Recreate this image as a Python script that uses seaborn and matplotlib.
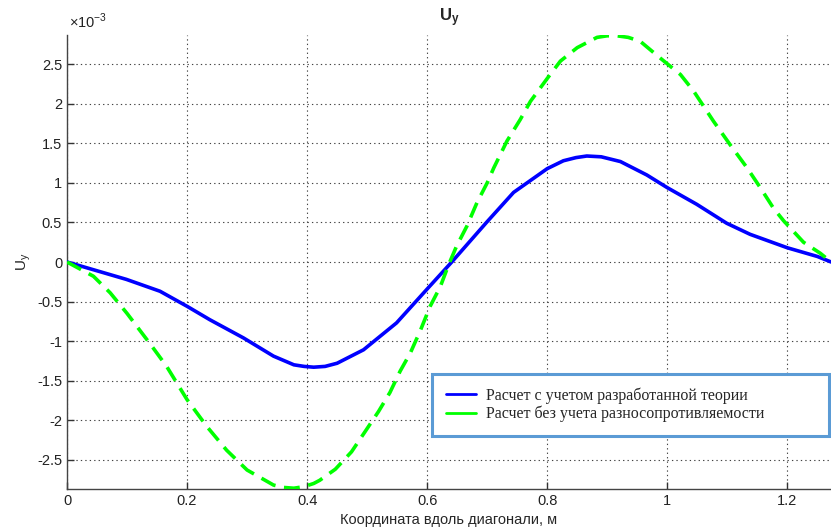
import numpy as np
import pandas as pd
import matplotlib
matplotlib.use("Agg")
import matplotlib.pyplot as plt
import seaborn as sns

## data (y in units of 1e-3) ##
blue_x = [0, 0.036, 0.072, 0.099, 0.155, 0.2, 0.238, 0.294, 0.344, 0.378, 0.395, 0.411,
          0.43, 0.45, 0.494, 0.549, 0.599, 0.641, 0.7, 0.744, 0.8, 0.827, 0.848, 0.866,
          0.89, 0.922, 0.966, 1.0, 1.049, 1.099, 1.138, 1.2, 1.25, 1.273]
blue_y = [0, -0.08, -0.16, -0.22, -0.37, -0.56, -0.73, -0.96, -1.19, -1.30, -1.32, -1.33,
          -1.32, -1.28, -1.11, -0.77, -0.35, 0.0, 0.51, 0.88, 1.18, 1.28, 1.32, 1.34,
          1.33, 1.27, 1.10, 0.94, 0.73, 0.49, 0.35, 0.18, 0.07, 0]

green_x = [0, 0.044, 0.072, 0.1, 0.138, 0.166, 0.2, 0.233, 0.266, 0.3, 0.344, 0.36, 0.378,
           0.395, 0.411, 0.421, 0.447, 0.474, 0.497, 0.519, 0.538, 0.555, 0.572, 0.589,
           0.605, 0.622, 0.636, 0.649, 0.666, 0.683, 0.7, 0.711, 0.733, 0.755, 0.772, 0.8,
           0.822, 0.85, 0.883, 0.9, 0.916, 0.935, 0.955, 0.988, 1.022, 1.044, 1.077, 1.105,
           1.133, 1.155, 1.177, 1.194, 1.227, 1.255, 1.273]
green_y = [0, -0.18, -0.39, -0.65, -1.03, -1.32, -1.74, -2.08, -2.38, -2.63, -2.82, -2.85,
           -2.86, -2.84, -2.80, -2.76, -2.62, -2.40, -2.14, -1.89, -1.65, -1.38, -1.15,
           -0.86, -0.56, -0.31, -0.03, 0.2, 0.45, 0.75, 1.0, 1.19, 1.53, 1.80, 2.03, 2.32,
           2.54, 2.71, 2.84, 2.86, 2.86, 2.84, 2.79, 2.58, 2.37, 2.16, 1.78, 1.48,
           1.19, 0.94, 0.68, 0.52, 0.25, 0.11, 0]

label_blue = "Расчет с учетом разработанной теории"
label_green = "Расчет без учета разносопротивляемости"
x_ticks = [0, 0.2, 0.4, 0.6, 0.8, 1, 1.2]
y_ticks = [-2.5, -2, -1.5, -1, -0.5, 0, 0.5, 1, 1.5, 2, 2.5]

df_blue = pd.DataFrame({"x": blue_x, "y": np.array(blue_y) * 1e-3})
df_green = pd.DataFrame({"x": green_x, "y": np.array(green_y) * 1e-3})

sns.set_style("white")
plt.rcParams["font.family"] = ["Liberation Sans", "DejaVu Sans"]
plt.rcParams["axes.unicode_minus"] = False
plt.rcParams["mathtext.fontset"] = "custom"
plt.rcParams["mathtext.rm"] = "Liberation Sans"
plt.rcParams["mathtext.bf"] = "Liberation Sans:bold"

fig = plt.figure(figsize=(8.31, 5.32), dpi=100)
ax = fig.add_axes([67 / 831, 43 / 532, 764 / 831, 454 / 532])

sns.lineplot(data=df_blue, x="x", y="y", ax=ax, color="#0000ff", lw=2.6,
             sort=False, label=label_blue, zorder=3)
sns.lineplot(data=df_green, x="x", y="y", ax=ax, color="#00ff00", lw=2.6,
             sort=False, label=label_green, zorder=3)
ax.lines[1].set_dashes([4.4, 2.4])

ax.set_xlim(0, 1.2728)
ax.set_ylim(-2.87e-3, 2.87e-3)
ax.set_xticks(x_ticks)
ax.set_xticklabels([f"{t:g}" for t in x_ticks])
ax.set_yticks([t * 1e-3 for t in y_ticks])
ax.set_yticklabels([f"{t:g}" for t in y_ticks])
ax.text(0.003, 1.008, r"$\times10^{-3}$", transform=ax.transAxes, ha="left",
        va="bottom", fontsize=10.5, color="#222222")

ax.grid(True, color="#444444", linestyle=(0, (1.2, 2.8)), lw=0.8)
ax.tick_params(direction="in", length=5, width=1, colors="#333333",
               labelsize=10.5, labelcolor="#222222", left=True, bottom=True)
for s in ["top", "right"]:
    ax.spines[s].set_visible(False)
for s in ["left", "bottom"]:
    ax.spines[s].set_color("#444444")
    ax.spines[s].set_linewidth(1)

ax.set_title(r"$\mathbf{U_y}$", fontsize=12, pad=10)
ax.set_xlabel("Координата вдоль диагонали, м", fontsize=10.5, labelpad=4)
ax.set_ylabel(r"$\mathrm{U_y}$", fontsize=11, labelpad=3)

leg = ax.legend(loc="lower left", bbox_to_anchor=(432 / 831, 96 / 532, 397 / 831, 63 / 532),
                bbox_transform=fig.transFigure, mode="expand", fancybox=False,
                framealpha=1, borderpad=0.85, labelspacing=0.12, handlelength=1.9,
                handletextpad=0.6, borderaxespad=0,
                prop={"family": "Liberation Serif", "size": 11.5})
leg.get_frame().set_edgecolor("#5b9bd5")
leg.get_frame().set_linewidth(2.2)
for h in leg.get_lines():
    h.set_linewidth(2)
    h.set_linestyle("-")

fig.savefig("out.png", dpi=100)
